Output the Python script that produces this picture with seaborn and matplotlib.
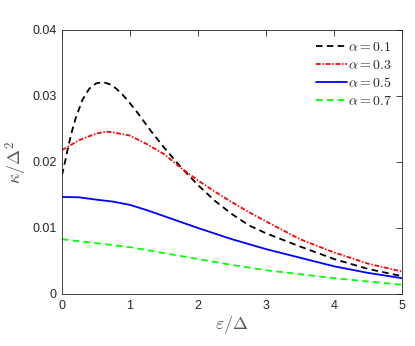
import matplotlib
matplotlib.use("Agg")
import matplotlib.pyplot as plt
import numpy as np
import pandas as pd
import seaborn as sns

# values
eps_a1 = [0.0, 0.05, 0.1, 0.15, 0.2, 0.3, 0.4, 0.5, 0.6, 0.7, 0.8, 0.9, 1.0, 1.1, 1.2,
          1.3, 1.4, 1.5, 1.75, 2.0, 2.25, 2.5, 2.75, 3.0, 3.5, 4.0, 4.5, 5.0]
kappa_a1 = [0.0180, 0.0203, 0.0227, 0.0248, 0.0266, 0.0294, 0.0311, 0.0319, 0.0321,
            0.0318, 0.0311, 0.0301, 0.0289, 0.0276, 0.0262, 0.0248, 0.0235, 0.0222,
            0.0192, 0.0165, 0.0141, 0.0121, 0.0104, 0.0092, 0.0072, 0.0053, 0.0038,
            0.0027]

eps_a3 = [0.0, 0.25, 0.5, 0.65, 0.75, 1.0, 1.25, 1.5, 1.75, 2.0, 2.25, 2.5, 2.75,
          3.0, 3.5, 4.0, 4.5, 5.0]
kappa_a3 = [0.0218, 0.0233, 0.0243, 0.0246, 0.0245, 0.0240, 0.0227, 0.0212, 0.0191,
            0.0172, 0.0155, 0.0139, 0.0124, 0.0110, 0.0083, 0.0063, 0.0046, 0.0034]

eps_a5 = [0.0, 0.25, 0.5, 0.75, 1.0, 1.25, 1.5, 1.75, 2.0, 2.5, 3.0, 3.5, 4.0, 4.5, 5.0]
kappa_a5 = [0.0147, 0.01465, 0.0143, 0.0140, 0.0135, 0.0127, 0.0118, 0.0109, 0.0100,
            0.0083, 0.0068, 0.0055, 0.0042, 0.0032, 0.0024]

eps_a7 = [0.0, 0.5, 1.0, 1.5, 2.0, 2.5, 3.0, 3.5, 4.0, 4.5, 5.0]
kappa_a7 = [0.0083, 0.0077, 0.0071, 0.0062, 0.0053, 0.0044, 0.0036, 0.0030, 0.0024,
            0.0019, 0.0014]

series = [
    (eps_a1, kappa_a1, r'$\alpha = 0.1$', 'black', (0, (3.6, 2.4))),
    (eps_a3, kappa_a3, r'$\alpha = 0.3$', 'red', (0, (2.6, 1.0, 0.8, 1.0))),
    (eps_a5, kappa_a5, r'$\alpha = 0.5$', 'blue', '-'),
    (eps_a7, kappa_a7, r'$\alpha = 0.7$', (0, 1, 0), (0, (3.6, 2.4))),
]

sns.set_style("white")
plt.rcParams['font.family'] = ['Liberation Sans', 'DejaVu Sans']
plt.rcParams['mathtext.fontset'] = 'cm'

fig = plt.figure(figsize=(4.15, 3.46), dpi=100)
ax = fig.add_axes([62 / 415, 52 / 346, 340 / 415, 264 / 346])

for x, y, label, color, ls in series:
    df = pd.DataFrame({'eps': x, 'kappa': y})
    sns.lineplot(data=df, x='eps', y='kappa', ax=ax, color=color, linestyle=ls,
                 linewidth=1.3, label=label, sort=False)

ax.set_xlim(0, 5)
ax.set_ylim(0, 0.04)
ax.set_xticks([0, 1, 2, 3, 4, 5])
ax.set_yticks([0, 0.01, 0.02, 0.03, 0.04])
ax.set_yticklabels(['0', '0.01', '0.02', '0.03', '0.04'])

axis_grey = '#262626'
for sp in ax.spines.values():
    sp.set_visible(True)
    sp.set_color(axis_grey)
    sp.set_linewidth(0.6)
ax.tick_params(direction='in', length=4, width=0.6, top=True, right=True,
               colors=axis_grey, labelsize=9, pad=4)

ax.set_xlabel(r'$\varepsilon/\Delta$', fontsize=13, color='#555555', labelpad=2)
ax.set_ylabel(r'$\kappa/\Delta^2$', fontsize=13, color='#555555', labelpad=2)

leg = ax.legend(loc='upper right', frameon=False, fontsize=10, handlelength=2.2,
                handletextpad=0.1, labelspacing=0.3, borderaxespad=0.3)

fig.savefig('out.png', dpi=100)
